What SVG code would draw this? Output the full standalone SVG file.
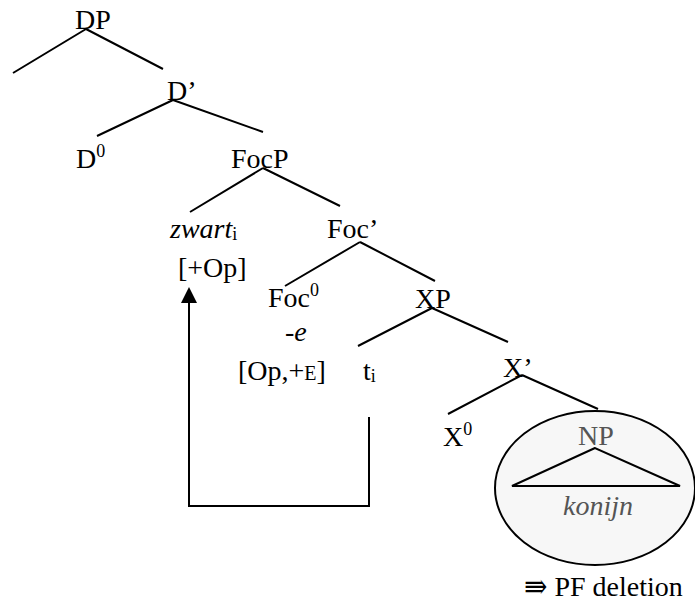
<svg xmlns="http://www.w3.org/2000/svg" width="695" height="612" viewBox="0 0 695 612">
<style>
text{font-family:"Liberation Serif","Times New Roman","DejaVu Serif",serif;font-size:28px;fill:#000}
.sup{font-size:18px}
.sub{font-size:18px}
.it{font-style:italic}
.gray{fill:#555}
.br{stroke:#000;stroke-width:2;fill:none}
</style>
<g id="connectors">
<path class="br" d="M86,29 L13,73 M86,29 L163,69"/>
<path class="br" d="M173,100 L97,136 M173,100 L263,132"/>
<path class="br" d="M263,168 L190,212 M263,168 L340,206"/>
<path class="br" d="M360,242 L285,286 M360,242 L435,281"/>
<path class="br" d="M432,308 L358,346 M432,308 L508,342"/>
<path class="br" d="M522,375 L448,414 M522,375 L598,409"/>
<path class="br" d="M369,417 L369,506 L189,506 L189,302"/>
<path d="M181,303 L189,287 L197,303 Z" fill="#000"/>
</g>
<g id="DP"><text x="75" y="29">DP</text></g>
<g id="Dbar"><text x="167" y="100">D’</text></g>
<g id="D0"><text x="76" y="168">D<tspan class="sup" dy="-11">0</tspan></text></g>
<g id="FocP"><text x="231" y="168">FocP</text></g>
<g id="zwart"><text x="170" y="238"><tspan class="it">zwart</tspan><tspan class="sub" dy="2">i</tspan></text><text x="178" y="277">[+Op]</text></g>
<g id="Focbar"><text x="327" y="238">Foc’</text></g>
<g id="Foc0"><text x="268" y="307">Foc<tspan class="sup" dy="-11">0</tspan></text><text x="285" y="341">-<tspan class="it">e</tspan></text><text x="238" y="380">[Op,+<tspan style="font-size:20px">E</tspan>]</text></g>
<g id="ti"><text x="363" y="380">t<tspan class="sub" dy="2">i</tspan></text></g>
<g id="XP"><text x="415" y="308">XP</text></g>
<g id="Xbar"><text x="503" y="377">X’</text></g>
<g id="X0"><text x="443" y="446">X<tspan class="sup" dy="-11">0</tspan></text></g>
<g id="NP">
<ellipse cx="595" cy="488" rx="100" ry="77" fill="#f7f7f7" stroke="#000" stroke-width="2"/>
<text class="gray" x="578" y="445">NP</text>
<path d="M595,448 L512,486 L680,486 Z" fill="none" stroke="#000" stroke-width="2"/>
<text class="gray it" x="563" y="515">konijn</text>
</g>
<g id="note"><text x="524" y="596">⇛ PF deletion</text></g>
</svg>
